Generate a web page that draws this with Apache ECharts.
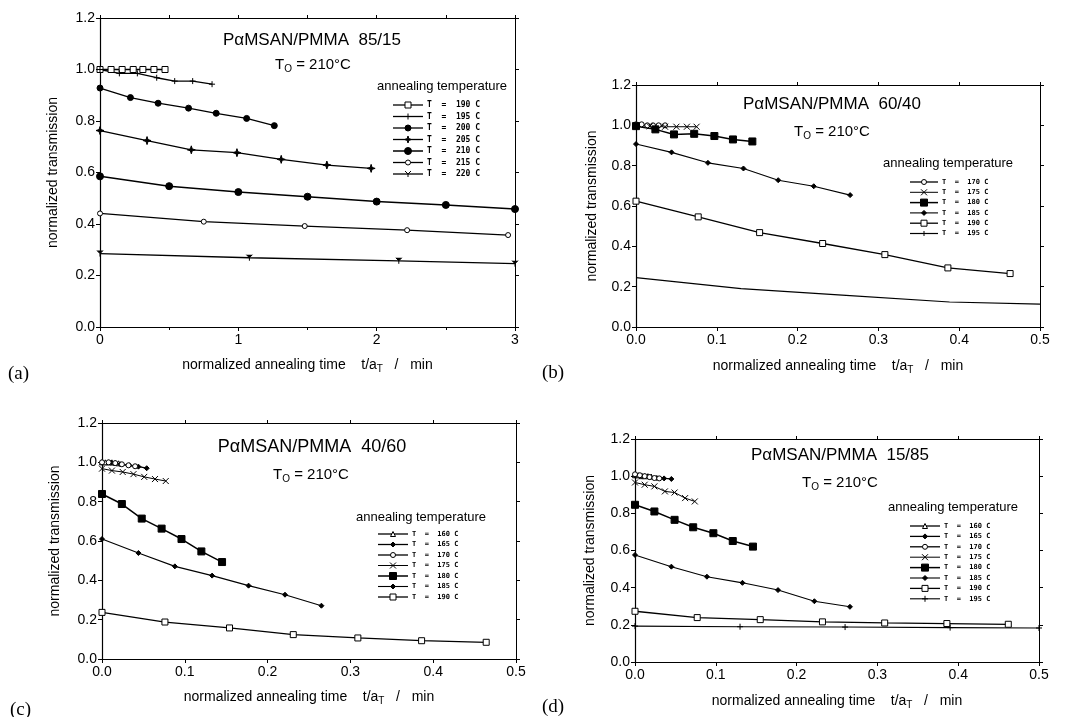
<!DOCTYPE html>
<html>
<head>
<meta charset="utf-8">
<script src="https://cdn.jsdelivr.net/npm/echarts@6/dist/echarts.min.js"></script>
<style>
  html, body { margin: 0; padding: 0; background: #fff; }
  #chart { width: 1069px; height: 717px; }
</style>
</head>
<body>
<div id="chart"></div>
<script>
// ---------- data: [normalized annealing time t/aT (min), normalized transmission] ----------
// (a) PαMSAN/PMMA 85/15
const a190 = [[0,1.0],[0.08,1.0],[0.16,1.0],[0.24,1.0],[0.31,1.0],[0.39,1.0],[0.47,1.0]];
const a195 = [[0,1.0],[0.14,0.985],[0.27,0.985],[0.41,0.968],[0.54,0.955],[0.67,0.955],[0.81,0.943]];
const a200 = [[0,0.928],[0.22,0.891],[0.42,0.869],[0.64,0.85],[0.84,0.83],[1.06,0.81],[1.26,0.782]];
const a205 = [[0,0.763],[0.34,0.724],[0.66,0.688],[0.99,0.677],[1.31,0.651],[1.64,0.629],[1.96,0.616]];
const a210 = [[0,0.585],[0.5,0.547],[1.0,0.524],[1.5,0.506],[2.0,0.487],[2.5,0.474],[3.0,0.458]];
const a215 = [[0,0.441],[0.75,0.409],[1.48,0.392],[2.22,0.376],[2.95,0.357]];
const a220 = [[0,0.285],[1.08,0.269],[2.16,0.257],[3.0,0.246]];

// (b) PαMSAN/PMMA 60/40
const b170 = [[0,1.005],[0.007,1.005],[0.014,1.0],[0.021,1.0],[0.028,1.0],[0.036,1.0]];
const b175 = [[0,1.0],[0.017,0.995],[0.036,0.993],[0.05,0.993],[0.063,0.993],[0.075,0.993]];
const b180 = [[0,0.996],[0.024,0.98],[0.047,0.955],[0.072,0.958],[0.097,0.947],[0.12,0.93],[0.144,0.92]];
const b185 = [[0,0.907],[0.044,0.866],[0.089,0.814],[0.133,0.786],[0.176,0.728],[0.22,0.698],[0.265,0.654]];
const b190 = [[0,0.624],[0.077,0.546],[0.153,0.468],[0.231,0.414],[0.308,0.359],[0.386,0.293],[0.463,0.265]];
const b195 = [[0,0.245],[0.13,0.19],[0.26,0.157],[0.388,0.124],[0.5,0.113]];

// (c) PαMSAN/PMMA 40/60
const c160 = [[0,1.0],[0.004,1.0],[0.008,1.0],[0.012,1.0],[0.016,0.998],[0.02,0.995]];
const c165 = [[0,1.0],[0.011,0.998],[0.022,0.99],[0.033,0.985],[0.044,0.978],[0.054,0.97]];
const c170 = [[0,1.0],[0.008,1.0],[0.016,0.996],[0.024,0.99],[0.032,0.985],[0.04,0.98]];
const c175 = [[0,0.968],[0.012,0.958],[0.025,0.951],[0.038,0.94],[0.051,0.926],[0.064,0.915],[0.077,0.905]];
const c180 = [[0,0.839],[0.024,0.788],[0.048,0.714],[0.072,0.663],[0.096,0.61],[0.12,0.547],[0.145,0.493]];
const c185 = [[0,0.61],[0.044,0.539],[0.088,0.471],[0.133,0.424],[0.177,0.373],[0.221,0.327],[0.265,0.271]];
const c190 = [[0,0.237],[0.076,0.188],[0.154,0.158],[0.231,0.124],[0.309,0.107],[0.386,0.093],[0.464,0.085]];

// (d) PαMSAN/PMMA 15/85
const d160 = [[0,1.005],[0.004,1.005],[0.008,1.0],[0.012,1.0],[0.016,1.0],[0.02,0.998]];
const d165 = [[0,1.005],[0.009,1.0],[0.018,0.995],[0.027,0.99],[0.036,0.988],[0.045,0.985]];
const d170 = [[0,1.01],[0.006,1.005],[0.012,1.0],[0.018,0.995],[0.024,0.99],[0.03,0.988]];
const d175 = [[0,0.966],[0.012,0.954],[0.024,0.945],[0.037,0.918],[0.049,0.912],[0.062,0.882],[0.074,0.864]];
const d180 = [[0,0.846],[0.024,0.81],[0.049,0.765],[0.072,0.725],[0.097,0.693],[0.121,0.651],[0.146,0.621]];
const d185 = [[0,0.576],[0.045,0.513],[0.089,0.459],[0.133,0.426],[0.177,0.387],[0.222,0.327],[0.266,0.297]];
const d190 = [[0,0.273],[0.077,0.239],[0.155,0.228],[0.232,0.216],[0.309,0.21],[0.386,0.207],[0.462,0.203]];
const d195 = [[0,0.193],[0.13,0.19],[0.26,0.188],[0.39,0.185],[0.5,0.183]];

// ---------- tick labels ----------
const yTickLabels = ['0.0','0.2','0.4','0.6','0.8','1.0','1.2'];
const xTickLabelsA = ['0','1','2','3'];
const xTickLabelsBCD = ['0.0','0.1','0.2','0.3','0.4','0.5'];

// ---------- annealing temperatures per panel (°C) ----------
const tempsA = ['190','195','200','205','210','215','220'];
const tempsB = ['170','175','180','185','190','195'];
const tempsC = ['160','165','170','175','180','185','190'];
const tempsD = ['160','165','170','175','180','185','190','195'];

// ---------- panel texts ----------
const panelTitles = ['PαMSAN/PMMA  85/15','PαMSAN/PMMA  60/40','PαMSAN/PMMA  40/60','PαMSAN/PMMA  15/85'];
const panelTags = ['(a)','(b)','(c)','(d)'];

// ---------- marker shapes (series symbols + key geometry in a 10x10 box) ----------
const SYM = {
  sqOpen:   { s: 'rect', size: 6, fill: false, poly: [[0,0],[10,0],[10,10],[0,10]] },
  plus:     { s: 'path://M5,0L5,10M0,5L10,5', size: 6, fill: true, lines: [[[5,0],[5,10]],[[0,5],[10,5]]] },
  dotCross: { s: 'circle', size: 6, fill: true, circle: true },
  star4:    { s: 'path://M5,0L6.2,3.8L10,5L6.2,6.2L5,10L3.8,6.2L0,5L3.8,3.8Z', size: 8, fill: true,
              poly: [[5,0],[6.2,3.8],[10,5],[6.2,6.2],[5,10],[3.8,6.2],[0,5],[3.8,3.8]] },
  dotBig:   { s: 'circle', size: 7, fill: true, circle: true },
  circOpen: { s: 'circle', size: 5, fill: false, circle: true },
  ymark:    { s: 'path://M0,0L5,5L10,0M5,5L5,10', size: 6, fill: true, lines: [[[0,0],[5,5],[10,0]],[[5,5],[5,10]]] },
  cross:    { s: 'path://M0,0L10,10M10,0L0,10', size: 6, fill: true, lines: [[[0,0],[10,10]],[[10,0],[0,10]]] },
  sqFilled: { s: 'rect', size: 7, fill: true, poly: [[0,0],[10,0],[10,10],[0,10]] },
  diaSmall: { s: 'diamond', size: 5, fill: true, poly: [[5,0],[10,5],[5,10],[0,5]] },
  triOpen:  { s: 'triangle', size: 5, fill: false, poly: [[5,0],[10,10],[0,10]] },
  tick:     { s: 'path://M5,0L5,10', size: 5, fill: true, lines: [[[5,0],[5,10]]] }
};
const symA = ['sqOpen','plus','dotCross','star4','dotBig','circOpen','ymark'];
const symB = ['circOpen','cross','sqFilled','diaSmall','sqOpen','tick'];
const symC = ['triOpen','diaSmall','circOpen','cross','sqFilled','diaSmall','sqOpen'];
const symD = ['triOpen','diaSmall','circOpen','cross','sqFilled','diaSmall','sqOpen','plus'];
const lwA = [1.3,1.3,1.3,1.3,1.5,1.3,1.3];
const lwB = [1.3,1,1.5,1.1,1.3,1.2];
const lwC = [1.3,1.3,1.3,1,1.5,1.1,1.3];
const lwD = [1.3,1.3,1.3,1,1.5,1.1,1.3,1.1];

function line(pi, temp, data, sym, lw) {
  const m = SYM[sym];
  return {
    type: 'line',
    name: 'abcd'[pi] + '-' + temp,
    xAxisIndex: pi * 2,
    yAxisIndex: pi * 2,
    data: data,
    symbol: m.s,
    symbolSize: m.size,
    showSymbol: true,
    lineStyle: { color: '#000', width: lw },
    itemStyle: { color: m.fill ? '#000' : '#fff', borderColor: '#000', borderWidth: 1 },
    emphasis: { disabled: true },
    z: 3
  };
}

const panels = [
  { temps: tempsA, data: [a190,a195,a200,a205,a210,a215,a220], syms: symA, lws: lwA },
  { temps: tempsB, data: [b170,b175,b180,b185,b190,b195], syms: symB, lws: lwB },
  { temps: tempsC, data: [c160,c165,c170,c175,c180,c185,c190], syms: symC, lws: lwC },
  { temps: tempsD, data: [d160,d165,d170,d175,d180,d185,d190,d195], syms: symD, lws: lwD }
];

const series = [];
panels.forEach((p, pi) => {
  p.temps.forEach((t, k) => series.push(line(pi, t, p.data[k], p.syms[k], p.lws[k])));
});

// ---------- layout of the four plots ----------
const grids = [
  { left: 100, top: 18,  width: 415, height: 309 },
  { left: 636, top: 85,  width: 404, height: 242 },
  { left: 102, top: 423, width: 414, height: 236 },
  { left: 635, top: 439, width: 404, height: 223 }
];

const FONT = 'Liberation Sans, Arial, sans-serif';
const xNameRich = {
  fontSize: 14, fontFamily: FONT, color: '#000',
  rich: { sub: { fontSize: 10, fontFamily: FONT, color: '#000', padding: [8, 0, 0, 0] } }
};

const xAxes = [], yAxes = [];
grids.forEach((g, i) => {
  const isA = i === 0;
  const xmax = isA ? 3 : 0.5;
  const xint = isA ? 1 : 0.1;
  const xl = isA ? xTickLabelsA : xTickLabelsBCD;
  xAxes.push({
    type: 'value', gridIndex: i, min: 0, max: xmax, interval: xint, position: 'bottom',
    name: 'normalized annealing time    t/a{sub|T}   /   min',
    nameLocation: 'middle', nameGap: [29, 30, 29, 30][i],
    nameTextStyle: xNameRich,
    axisLine: { show: true, onZero: false, lineStyle: { color: '#000', width: 1.2 } },
    axisTick: { show: true, inside: false, length: 4, lineStyle: { color: '#000' } },
    minorTick: { show: isA, splitNumber: 2, length: 3, lineStyle: { color: '#000' } },
    axisLabel: { color: '#000', fontSize: 14, fontFamily: FONT, margin: 6,
      formatter: v => xl[Math.round(v / xint)] },
    splitLine: { show: false }
  });
  xAxes.push({
    type: 'value', gridIndex: i, min: 0, max: xmax, interval: isA ? 0.5 : 0.1, position: 'top',
    axisLine: { show: true, onZero: false, lineStyle: { color: '#000', width: 1 } },
    axisTick: { show: true, inside: false, length: 3, lineStyle: { color: '#000' } },
    axisLabel: { show: false }, splitLine: { show: false }
  });
  yAxes.push({
    type: 'value', gridIndex: i, min: 0, max: 1.2, interval: 0.2, position: 'left',
    name: 'normalized transmission', nameLocation: 'middle',
    nameGap: [40, 37, 40, 38][i],
    nameTextStyle: { fontSize: 14, fontFamily: FONT, color: '#000' },
    axisLine: { show: true, onZero: false, lineStyle: { color: '#000', width: 1.2 } },
    axisTick: { show: true, inside: false, length: 4, lineStyle: { color: '#000' } },
    axisLabel: { color: '#000', fontSize: 14, fontFamily: FONT, margin: 5,
      formatter: v => yTickLabels[Math.round(v / 0.2)] },
    splitLine: { show: false }
  });
  yAxes.push({
    type: 'value', gridIndex: i, min: 0, max: 1.2, interval: 0.2, position: 'right',
    axisLine: { show: true, onZero: false, lineStyle: { color: '#000', width: 1 } },
    axisTick: { show: true, inside: false, length: 4, lineStyle: { color: '#000' } },
    axisLabel: { show: false }, splitLine: { show: false }
  });
});

// ---------- key boxes: line sample + marker + label per temperature ----------
function keyMarker(sym, cx, cy, out) {
  const m = SYM[sym];
  const size = Math.min(m.size, 7);
  const sc = size / 10, ox = cx - size / 2, oy = cy - size / 2;
  const pts = arr => arr.map(p => [ox + p[0] * sc, oy + p[1] * sc]);
  const style = { fill: m.fill ? '#000' : '#fff', stroke: '#000', lineWidth: 1 };
  if (m.circle) {
    out.push({ type: 'circle', shape: { cx: cx, cy: cy, r: size / 2 }, style: style, z: 12 });
  } else if (m.poly) {
    out.push({ type: 'polygon', shape: { points: pts(m.poly) }, style: style, z: 12 });
  } else {
    m.lines.forEach(l => out.push({ type: 'polyline', shape: { points: pts(l) },
      style: { fill: null, stroke: '#000', lineWidth: 1 }, z: 12 }));
  }
}
const keySpots = [
  { x: 393, y: 105, pitch: 11.5, fs: 8, w: 30 },
  { x: 910, y: 182, pitch: 10.3, fs: 7, w: 28 },
  { x: 378, y: 534, pitch: 10.5, fs: 7, w: 30 },
  { x: 910, y: 526, pitch: 10.4, fs: 7, w: 30 }
];

const graphic = [];
panels.forEach((p, pi) => {
  const k = keySpots[pi];
  p.temps.forEach((t, r) => {
    const y = k.y + r * k.pitch;
    graphic.push({ type: 'line', shape: { x1: k.x, y1: y, x2: k.x + k.w, y2: y },
      style: { stroke: '#000', lineWidth: p.lws[r] }, z: 11 });
    keyMarker(p.syms[r], k.x + k.w / 2, y, graphic);
    graphic.push({ type: 'text', x: k.x + k.w + 4, y: y, z: 12,
      style: { text: 'T  =  ' + t + ' C', font: 'bold ' + k.fs + 'px DejaVu Sans Mono, monospace',
        fill: '#000', align: 'left', verticalAlign: 'middle' } });
  });
});

// ---------- headings inside the plots and panel tags ----------
const titleSpots = [[312, 40], [832, 104], [312, 447], [840, 455]];
const tempSpots = [[313, 65], [832, 132], [311, 475], [840, 483]];
const annSpots = [[377, 86], [883, 163], [356, 517], [888, 507]];
const tagSpots = [[8, 374], [542, 373], [10, 710], [542, 707]];

for (let i = 0; i < 4; i++) {
  graphic.push({
    type: 'text', x: titleSpots[i][0], y: titleSpots[i][1], z: 10,
    style: { text: panelTitles[i], font: (i === 2 ? 18 : 17) + 'px ' + FONT, fill: '#000',
      align: 'center', verticalAlign: 'middle' }
  });
  graphic.push({
    type: 'text', x: tempSpots[i][0], y: tempSpots[i][1], z: 10,
    style: { text: 'T{sub|O} = 210°C', font: '15px ' + FONT, fill: '#000',
      align: 'center', verticalAlign: 'middle',
      rich: { sub: { font: '10px ' + FONT, fill: '#000', padding: [9, 0, 0, 0] } } }
  });
  graphic.push({
    type: 'text', x: annSpots[i][0], y: annSpots[i][1], z: 10,
    style: { text: 'annealing temperature', font: '13px ' + FONT, fill: '#000',
      align: 'left', verticalAlign: 'middle' }
  });
  graphic.push({
    type: 'text', x: tagSpots[i][0], y: tagSpots[i][1], z: 10,
    style: { text: panelTags[i], font: '19px Liberation Serif, Times New Roman, serif', fill: '#000',
      align: 'left', verticalAlign: 'middle' }
  });
}

const chart = echarts.init(document.getElementById('chart'), null, { renderer: 'canvas' });
chart.setOption({
  backgroundColor: '#fff',
  animation: false,
  grid: grids,
  xAxis: xAxes,
  yAxis: yAxes,
  series: series,
  graphic: graphic
});
</script>
</body>
</html>
